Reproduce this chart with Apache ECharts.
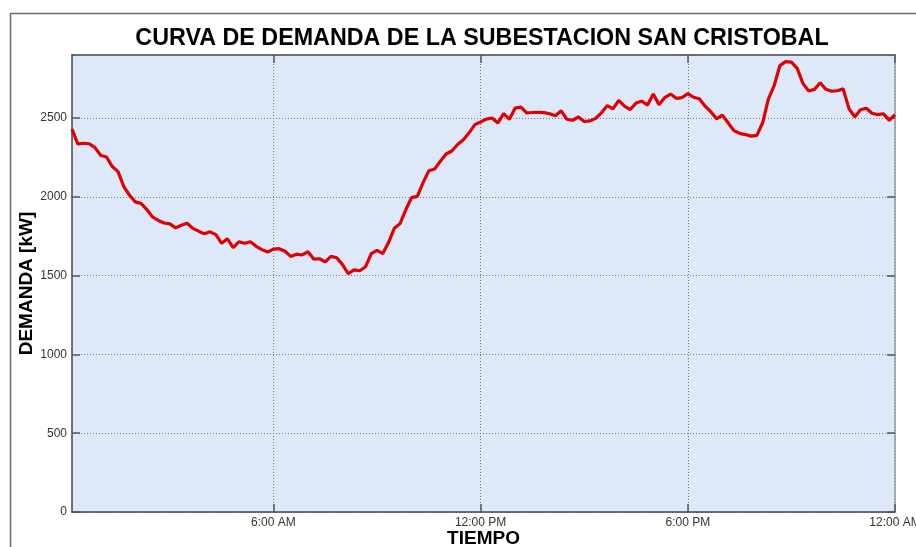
<!DOCTYPE html>
<html>
<head>
<meta charset="utf-8">
<script src="https://cdn.jsdelivr.net/npm/echarts@6/dist/echarts.min.js"></script>
<style>
  html, body { margin: 0; padding: 0; background: #fff; }
  #chart { width: 916px; height: 547px; }
</style>
</head>
<body>
<div id="chart"></div>
<script>
// minutes after midnight, one reading every 10 minutes (00:10 .. 24:00)
var startMin = 10;
var stepMin = 10;
var demanda = [
  2430, 2336, 2340, 2337, 2312, 2262, 2253, 2192, 2160, 2065,
  2010, 1968, 1958, 1919, 1872, 1850, 1834, 1828, 1803, 1820,
  1832, 1800, 1782, 1765, 1778, 1760, 1705, 1734, 1677, 1715,
  1705, 1715, 1686, 1665, 1650, 1668, 1671, 1655, 1622, 1636,
  1631, 1652, 1605, 1607, 1587, 1622, 1613, 1570, 1512, 1536,
  1531, 1556, 1640, 1660, 1640, 1710, 1800, 1830, 1918, 1995,
  2003, 2090, 2165, 2176, 2226, 2272, 2291, 2332, 2362, 2406,
  2458, 2475, 2493, 2500, 2469, 2528, 2492, 2563, 2569, 2532,
  2535, 2536, 2534, 2527, 2515, 2546, 2492, 2486, 2507, 2478,
  2482, 2498, 2533, 2579, 2558, 2612, 2576, 2554, 2595, 2607,
  2582, 2652, 2585, 2630, 2652, 2625, 2630, 2655, 2632, 2622,
  2575, 2540, 2495, 2518, 2470, 2420, 2403, 2395, 2385, 2390,
  2470, 2620, 2705, 2833, 2858, 2855, 2815, 2720, 2672, 2682,
  2724, 2682, 2670, 2673, 2685, 2560, 2507, 2553, 2562, 2530,
  2522, 2527, 2485, 2522
];
var xTicks = [360, 720, 1080, 1440];
var xTickLabels = ['6:00 AM', '12:00 PM', '6:00 PM', '12:00 AM'];
var yTicks = [0, 500, 1000, 1500, 2000, 2500];
var yMax = 2900;

var puntos = demanda.map(function (v, i) {
  return [startMin + i * stepMin, v];
});

var gridDots = { color: '#727c88', width: 1, type: [1, 2] };

var ec = echarts.init(document.getElementById('chart'));
ec.setOption({
  backgroundColor: '#fff',
  animation: false,
  title: {
    text: 'CURVA DE DEMANDA DE LA SUBESTACION SAN CRISTOBAL',
    left: 477,
    textAlign: 'center',
    top: 22,
    textStyle: {
      fontFamily: 'Liberation Sans',
      fontWeight: 'bold',
      fontSize: 23.3,
      color: '#000'
    }
  },
  graphic: [{
    type: 'rect',
    silent: true,
    shape: { x: 10.5, y: 13.5, width: 1000, height: 1000 },
    style: { fill: null, stroke: '#6b6b6b', lineWidth: 1.5 }
  }],
  grid: {
    left: 72,
    right: 21,
    top: 55,
    bottom: 35,
    outerBoundsMode: 'none',
    containLabel: false,
    show: true,
    backgroundColor: '#dde9f8',
    borderWidth: 0
  },
  xAxis: [{
    type: 'value',
    min: startMin,
    max: 1440,
    name: 'TIEMPO',
    nameLocation: 'middle',
    nameGap: 17,
    nameMoveOverlap: false,
    nameTextStyle: {
      fontFamily: 'Liberation Sans',
      fontWeight: 'bold',
      fontSize: 19,
      color: '#000',
      verticalAlign: 'top'
    },
    axisLine: { show: true, onZero: false, lineStyle: { color: '#444', width: 1.5 } },
    axisTick: {
      show: true,
      inside: true,
      length: 8,
      customValues: xTicks,
      lineStyle: { color: '#555', width: 1.5 }
    },
    axisLabel: {
      customValues: xTicks,
      margin: 5,
      color: '#333',
      fontFamily: 'Liberation Sans',
      fontSize: 12,
      formatter: function (v) {
        var k = xTicks.indexOf(v);
        return k >= 0 ? xTickLabels[k] : '';
      }
    },
    splitLine: { show: true, lineStyle: gridDots }
  }, {
    type: 'value',
    position: 'top',
    min: startMin,
    max: 1440,
    axisLine: { show: true, onZero: false, lineStyle: { color: '#444', width: 1.5 } },
    axisTick: {
      show: true,
      inside: true,
      length: 8,
      customValues: xTicks,
      lineStyle: { color: '#555', width: 1.5 }
    },
    axisLabel: { show: false },
    splitLine: { show: false }
  }],
  yAxis: [{
    type: 'value',
    min: 0,
    max: yMax,
    name: 'DEMANDA [kW]',
    nameLocation: 'middle',
    nameGap: 36,
    nameMoveOverlap: false,
    nameTextStyle: {
      fontFamily: 'Liberation Sans',
      fontWeight: 'bold',
      fontSize: 19,
      color: '#000'
    },
    axisLine: { show: true, onZero: false, lineStyle: { color: '#444', width: 1.5 } },
    axisTick: {
      show: true,
      inside: true,
      length: 8,
      customValues: yTicks,
      lineStyle: { color: '#555', width: 1.5 }
    },
    axisLabel: {
      customValues: yTicks,
      margin: 5,
      color: '#333',
      fontFamily: 'Liberation Sans',
      fontSize: 12,
      formatter: function (v) { return String(v); }
    },
    splitLine: { show: true, lineStyle: gridDots }
  }, {
    type: 'value',
    position: 'right',
    min: 0,
    max: yMax,
    axisLine: { show: true, onZero: false, lineStyle: { color: '#999', width: 1.5 } },
    axisTick: {
      show: true,
      inside: true,
      length: 8,
      customValues: yTicks,
      lineStyle: { color: '#555', width: 1.5 }
    },
    axisLabel: { show: false },
    splitLine: { show: false }
  }],
  series: [{
    type: 'line',
    xAxisIndex: 0,
    yAxisIndex: 0,
    data: puntos,
    showSymbol: false,
    symbol: 'none',
    lineStyle: { color: '#e00000', width: 3.2 },
    z: 5
  }]
});
</script>
</body>
</html>
